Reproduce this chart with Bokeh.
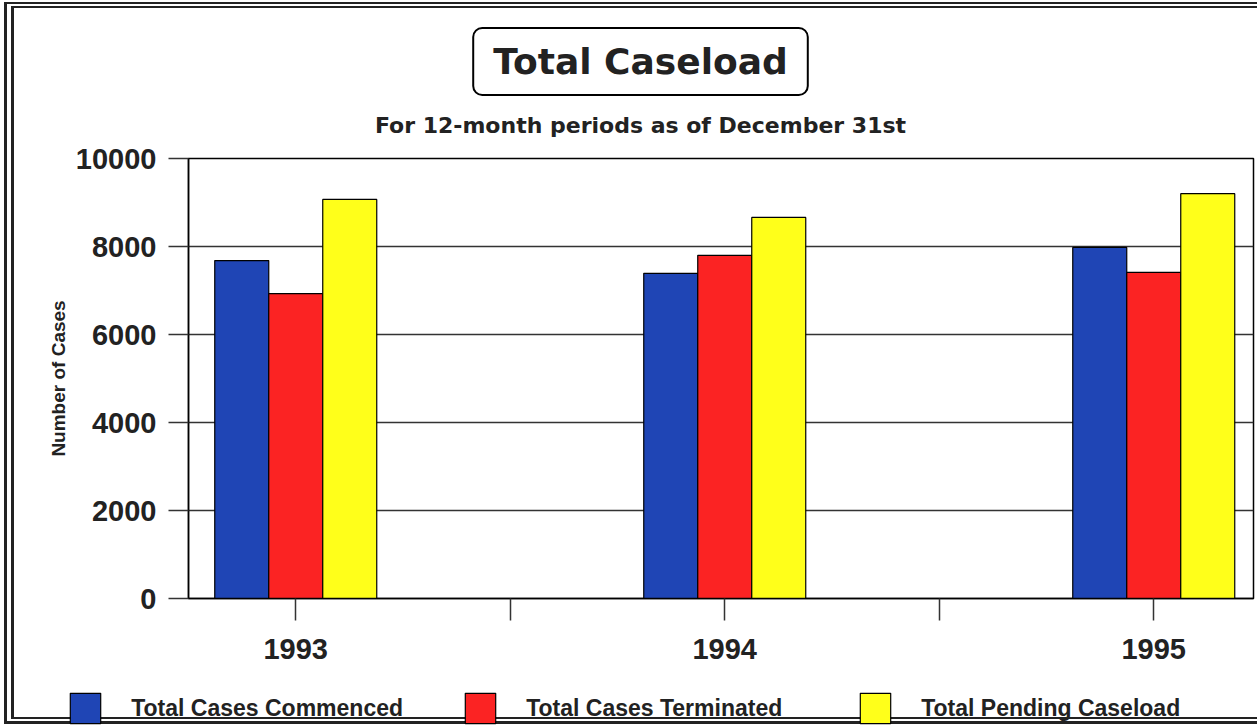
from bokeh.plotting import figure
from bokeh.layouts import column
from bokeh.models import (Range1d, FixedTicker, Legend, LegendItem, Label,
                          CustomJSTickFormatter, NumeralTickFormatter)
from bokeh.embed import file_html
from bokeh.resources import INLINE
import numpy as np

# ---------------- data ----------------
years = ["1993", "1994", "1995"]
series_names = ["Total Cases Commenced", "Total Cases Terminated", "Total Pending Caseload"]
commenced = [7680, 7390, 7980]
terminated = [6930, 7800, 7410]
pending = [9070, 8660, 9200]
y_ticks = [0, 2000, 4000, 6000, 8000, 10000]
title_text = "Total Caseload"
subtitle_text = "For 12-month periods as of December 31st"
y_label = "Number of Cases"

# ---------------- layout / style ----------------
W, H = 1257, 725
TH, LH = 140, 45                 # title strip / legend strip heights
MH = H - TH - LH                 # main chart height
FL, FR = 188, 1253               # frame x bounds (pixels)
FT, FB = 158 - TH, 598 - TH      # frame y bounds inside main figure
PXU = 429.0                      # pixels per category
XMIN = -0.25
XMAX = XMIN + (FR - FL) / PXU
YMAX = 10000
BW = 54 / PXU
colors = ["#1f45b5", "#fb2323", "#ffff1a"]
DARK = "#222222"

LEFT_LINES = ["inset 4px 0 0 0 white", "inset 7px 0 0 0 #222",
              "inset 11px 0 0 0 white", "inset 14px 0 0 0 #222"]
top_shadow = ", ".join(["inset 0 2px 0 0 white", LEFT_LINES[0], LEFT_LINES[1],
                        "inset 0 4px 0 0 #222", LEFT_LINES[2], "inset 0 6px 0 0 white",
                        LEFT_LINES[3], "inset 0 8px 0 0 #222"])
mid_shadow = ", ".join(LEFT_LINES)
bot_shadow = ", ".join(["inset 0 -1px 0 0 white", LEFT_LINES[0], LEFT_LINES[1],
                        "inset 0 -4px 0 0 #222", LEFT_LINES[2], "inset 0 -6px 0 0 white",
                        LEFT_LINES[3], "inset 0 -8px 0 0 #222"])


def strip(h, shadow):
    f = figure(width=W, height=h, output_backend="svg", toolbar_location=None,
               x_range=Range1d(0, W), y_range=Range1d(0, h),
               x_axis_type=None, y_axis_type=None, min_border=0,
               frame_align=False,
               styles={"background-color": "white", "box-shadow": shadow})
    f.title = None
    f.outline_line_color = None
    f.background_fill_alpha = 0
    f.border_fill_alpha = 0
    return f


# ---------------- title strip ----------------
tf = strip(TH, top_shadow)
pad = dict(left=20, right=20, top=13, bottom=13)
tcx = 640
tf.add_layout(Label(x=tcx, y=TH - 61, text=title_text, text_align="center",
                    text_baseline="middle", text_font="DejaVu Sans", text_font_style="bold",
                    text_font_size="36px", text_alpha=0, padding=pad, border_radius=9,
                    background_fill_color="#666666", border_line_color="#666666",
                    x_offset=2.5, y_offset=-2.5))
tf.add_layout(Label(x=tcx, y=TH - 61, text=title_text, text_align="center",
                    text_baseline="middle", text_font="DejaVu Sans", text_font_style="bold",
                    text_font_size="36px", text_color=DARK, padding=pad, border_radius=9,
                    background_fill_color="white", border_line_color="black",
                    border_line_width=2))
tf.add_layout(Label(x=tcx, y=TH - 125, text=subtitle_text, text_align="center",
                    text_baseline="middle", text_font="DejaVu Sans", text_font_style="bold",
                    text_font_size="22px", text_color=DARK))

# ---------------- main chart ----------------
p = figure(width=W, height=MH, output_backend="svg", toolbar_location=None,
           x_range=Range1d(XMIN, XMAX), y_range=Range1d(0, YMAX),
           min_border_left=FL, min_border_right=W - FR,
           min_border_top=FT, min_border_bottom=MH - FB,
           frame_align=False,
           styles={"background-color": "white", "box-shadow": mid_shadow})
p.title = None
p.background_fill_color = "white"
p.border_fill_alpha = 0
p.outline_line_color = "black"
p.outline_line_width = 1.5

xs = np.arange(len(years))
series = [commenced, terminated, pending]
offsets = [-BW, 0.0, BW]
for vals, off, col in zip(series, offsets, colors):
    p.vbar(x=xs + off, top=vals, bottom=0, width=BW,
           fill_color=col, line_color="black", line_width=1.2)

p.xaxis.ticker = FixedTicker(ticks=[i * 0.5 for i in range(2 * len(years) - 1)])
p.xaxis.formatter = CustomJSTickFormatter(
    args=dict(labels=years),
    code="const r = Math.round(tick); return Math.abs(tick - r) < 1e-6 ? labels[r] : '';")
p.yaxis.ticker = FixedTicker(ticks=y_ticks)
p.yaxis.formatter = NumeralTickFormatter(format="0")

for ax in (p.xaxis, p.yaxis):
    ax.axis_line_color = "black"
    ax.axis_line_width = 1.5
    ax.major_tick_line_color = "#333333"
    ax.major_tick_line_width = 1.5
    ax.major_tick_in = 0
    ax.minor_tick_line_color = None
    ax.major_label_text_font = "Liberation Sans"
    ax.major_label_text_font_style = "bold"
    ax.major_label_text_font_size = "29px"
    ax.major_label_text_color = DARK

p.yaxis.major_tick_out = 20
p.yaxis.major_label_standoff = 12
p.yaxis.axis_label = y_label
p.yaxis.axis_label_text_font = "Liberation Sans"
p.yaxis.axis_label_text_font_style = "bold"
p.yaxis.axis_label_text_font_size = "19px"
p.yaxis.axis_label_text_color = DARK
p.yaxis.axis_label_standoff = 4

p.xaxis.major_tick_out = 22
p.xaxis.major_label_standoff = 18

p.xgrid.visible = False
p.ygrid.grid_line_color = "#333333"
p.ygrid.grid_line_width = 1.5

# ---------------- legend strip ----------------
lf = strip(LH, bot_shadow)
# legend swatches (zero-size bars kept outside the visible range)
leg_r = [lf.vbar(x=[-1000], top=[0], bottom=0, width=1, fill_color=c,
                 line_color="black", line_width=1.2) for c in colors]
legend = Legend(items=[LegendItem(label=n, renderers=[r]) for n, r in zip(series_names, leg_r)],
                orientation="horizontal", location=(66.2, -2.2),
                glyph_width=38, glyph_height=38, label_height=38, label_width=330,
                label_standoff=27, spacing=0, padding=0, margin=0,
                border_line_color=None, background_fill_alpha=0,
                label_text_font="Liberation Sans", label_text_font_style="bold",
                label_text_font_size="23px", label_text_color=DARK)
lf.add_layout(legend, "center")

layout = column(tf, p, lf, spacing=0)
open("out.html", "w").write(file_html(layout, INLINE))
